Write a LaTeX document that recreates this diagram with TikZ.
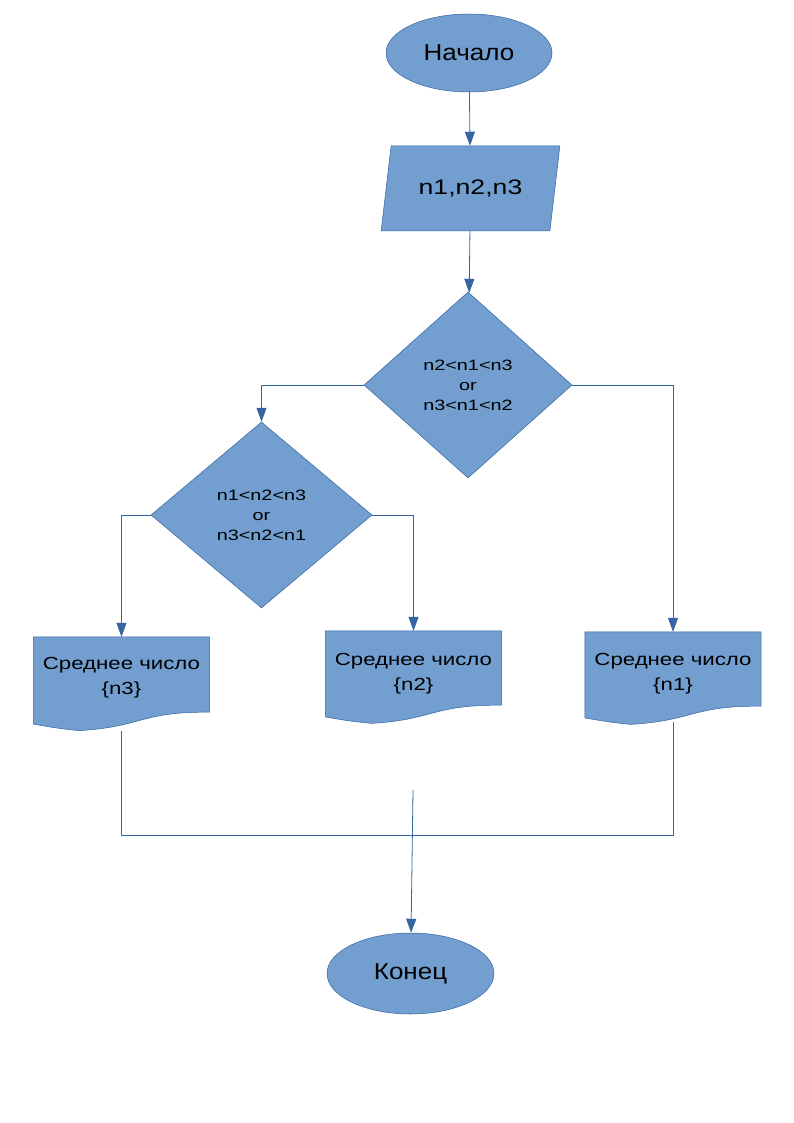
\documentclass[tikz,border=0pt]{standalone}
\usepackage{fontspec}
\setmainfont{Liberation Sans}
\newfontfamily\fonta[FakeStretch=1.13]{Liberation Sans}
\newfontfamily\fontb[FakeStretch=1.27]{Liberation Sans}
\newfontfamily\fontc[FakeStretch=1.32]{Liberation Sans}
\usetikzlibrary{shapes.geometric,arrows.meta,backgrounds,calc}
\definecolor{shapefill}{HTML}{729FCF}
\definecolor{linecol}{HTML}{3465A4}
\tikzset{
  base/.style={fill=shapefill, draw=linecol, line width=0.5pt, text=black, inner sep=0pt},
  terminal/.style={base, ellipse, minimum width=166pt, minimum height=78pt},
  termtext/.style={font=\fonta\fontsize{23pt}{27pt}\selectfont},
  iobox/.style={base, trapezium, trapezium left angle=69.4, trapezium right angle=110.6,
    trapezium stretches=true, minimum width=179pt, minimum height=85pt,
    font=\fontb\fontsize{21pt}{25pt}\selectfont},
  decision/.style={base, diamond, align=center,
    font=\fontc\fontsize{15pt}{20pt}\selectfont},
  docnode/.style={rectangle, inner sep=0pt, minimum width=176pt, minimum height=75pt},
  doctext/.style={align=center, inner sep=0pt, yshift=#1,
    font=\fontb\fontsize{17.5pt}{25pt}\selectfont},
  docfill/.style={fill=shapefill, draw=linecol, line width=0.5pt},
  conn/.style={draw=linecol, line width=0.8pt},
  arr/.style={conn, -{Triangle[length=14pt,width=10pt]}}
}
\newcommand\docpath[1]{%
  \path[docfill] let \p1=(#1.north west), \p2=(#1.south east),
    \n1={\x2-\x1}, \n2={\y1-\y2} in
    (\x1,\y1) -- (\x2,\y1) -- (\x2,\y2)
    .. controls ({\x1+0.604*\n1},{\y1-0.991*\n2}) and ({\x1+0.618*\n1},{\y1-1.1965*\n2})
    .. ({\x1+0.26*\n1},{\y1-1.2438*\n2})
    .. controls ({\x1+0.132*\n1},{\y1-1.2152*\n2}) and ({\x1+0.086*\n1},{\y1-1.1915*\n2})
    .. (\x1,{\y1-1.158*\n2}) -- cycle;}
\begin{document}
\begin{tikzpicture}[x=1pt,y=-1pt]
\useasboundingbox (0,0) rectangle (794,1123);

\node[terminal, termtext] (start) at (469,53) {Начало};
\node[iobox] (inp) at (470.5,188.5) {n1,n2,n3};
\node[decision, minimum width=208pt, minimum height=186pt] (d1) at (468,385)
  {n2<n1<n3\\or\\n3<n1<n2};
\node[decision, minimum width=221pt, minimum height=186pt] (d2) at (261.5,515)
  {n1<n2<n3\\or\\n3<n2<n1};
\node[docnode, label={[doctext=-3pt]center:Среднее число\\\{n3\}}] (doc3) at (121.5,674.5) {};
\node[docnode, minimum height=74pt, label={[doctext=-6pt]center:Среднее число\\\{n2\}}] (doc2) at (413.5,668) {};
\node[docnode, minimum height=74pt, label={[doctext=-5pt]center:Среднее число\\\{n1\}}] (doc1) at (673,669) {};
\node[terminal, termtext, minimum width=167pt, minimum height=81pt] (end) at (410.5,973.5) {Конец};

\begin{pgfonlayer}{background}
  \fill[white] (0,0) rectangle (794,1123);
  \docpath{doc3}
  \docpath{doc2}
  \docpath{doc1}
\end{pgfonlayer}

\coordinate (j3) at (121.5,731);
\coordinate (j1) at (673,722);
\coordinate (m) at (413,790);

\draw[arr] (start) -- (inp);
\draw[arr] (inp) -- (d1);
\draw[arr] (d1.west) -| (d2.north);
\draw[arr] (d1.east) -| (doc1.north);
\draw[arr] (d2.west) -| (doc3.north);
\draw[arr] (d2.east) -| (doc2.north);
\draw[conn] (j3) |- (673,835) -- (j1);
\draw[arr] (m) -- (end);
\end{tikzpicture}
\end{document}
